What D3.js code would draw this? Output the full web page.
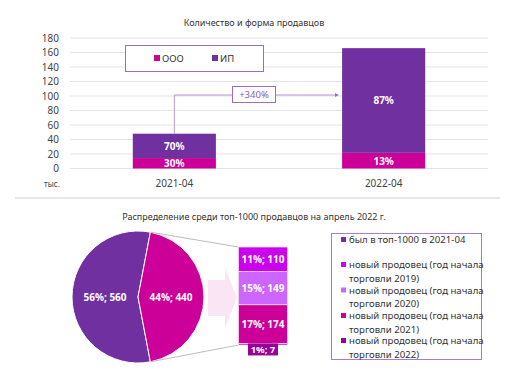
<!DOCTYPE html>
<html>
<head>
<meta charset="utf-8">
<script src="https://cdn.jsdelivr.net/npm/d3@7"></script>
<style>
  body { margin: 0; background: #fff; }
  svg { font-family: "Noto Sans", sans-serif; }
</style>
</head>
<body>
<svg id="chart" width="512" height="378"></svg>
<script>
// data: top chart (thousand sellers)
const periods = ['2021-04', '2022-04'];
const oooValues = [14.4, 21.6];
const ipValues = [33.6, 144.4];
const oooLabels = ['30%', '13%'];
const ipLabels = ['70%', '87%'];
const yTicks = [0, 20, 40, 60, 80, 100, 120, 140, 160, 180];
const growthLabel = '+340%';

// data: top-1000 breakdown
const pieNames = ['был в топ-1000 в 2021-04', 'новый'];
const pieValues = [560, 440];
const pieLabels = ['56%; 560', '44%; 440'];
const newYears = ['2022', '2021', '2020', '2019'];
const newValues = [7, 174, 149, 110];
const newLabels = ['1%; 7', '17%; 174', '15%; 149', '11%; 110'];

const purple = '#7030a0';
const pink = '#cc0099';
const yearColors = { '2019': '#cc00ee', '2020': '#cc66ff', '2021': '#cc0099', '2022': '#990099' };

const svg = d3.select('#chart');

// ---------- top chart ----------
svg.append('text').attr('x', 254).attr('y', 26).attr('text-anchor', 'middle')
  .attr('font-size', 9).attr('fill', '#333').text('Количество и форма продавцов');

const y = d3.scaleLinear().domain([0, 180]).range([168.5, 38]);
const x = d3.scaleBand().domain(periods).range([70, 488]).paddingInner(0.603).paddingOuter(0.3);

svg.append('g').selectAll('line').data(yTicks).join('line')
  .attr('x1', 70).attr('x2', 488)
  .attr('y1', d => y(d)).attr('y2', d => y(d))
  .attr('stroke', '#e3e3e3').attr('stroke-width', 1);

svg.append('g').selectAll('text').data(yTicks).join('text')
  .attr('x', 59).attr('y', d => y(d) + 3.5).attr('text-anchor', 'end')
  .attr('font-size', 10).attr('fill', '#444').text(d => d);

svg.append('text').attr('x', 52).attr('y', 187).attr('text-anchor', 'middle')
  .attr('font-size', 8).attr('fill', '#444').text('тыс.');

svg.append('g').selectAll('text').data(periods).join('text')
  .attr('x', d => x(d) + x.bandwidth() / 2).attr('y', 187).attr('text-anchor', 'middle')
  .attr('font-size', 10).attr('fill', '#444').text(d => d);

// separator line
svg.append('line').attr('x1', 15).attr('x2', 500).attr('y1', 198).attr('y2', 198)
  .attr('stroke', '#e6e6e6').attr('stroke-width', 2);

const bars = svg.append('g');
periods.forEach((p, i) => {
  const bx = x(p), bw = x.bandwidth();
  bars.append('rect').attr('x', bx).attr('width', bw)
    .attr('y', y(oooValues[i])).attr('height', y(0) - y(oooValues[i])).attr('fill', pink);
  bars.append('rect').attr('x', bx).attr('width', bw)
    .attr('y', y(oooValues[i] + ipValues[i])).attr('height', y(oooValues[i]) - y(oooValues[i] + ipValues[i]))
    .attr('fill', purple);
  bars.append('text').attr('x', bx + bw / 2).attr('y', (y(0) + y(oooValues[i])) / 2 + 4)
    .attr('text-anchor', 'middle').attr('font-size', 10).attr('font-weight', 'bold')
    .attr('fill', '#fff').text(oooLabels[i]);
  bars.append('text').attr('x', bx + bw / 2)
    .attr('y', (y(oooValues[i]) + y(oooValues[i] + ipValues[i])) / 2 + 4)
    .attr('text-anchor', 'middle').attr('font-size', 10).attr('font-weight', 'bold')
    .attr('fill', '#fff').text(ipLabels[i]);
});

// legend box
svg.append('rect').attr('x', 125.5).attr('y', 45.5).attr('width', 138).attr('height', 26)
  .attr('fill', '#fff').attr('stroke', '#9a6cc4').attr('stroke-width', 1);
[['ООО', pink, 154], ['ИП', purple, 212]].forEach(([t, c, lx]) => {
  svg.append('rect').attr('x', lx).attr('y', 55).attr('width', 6).attr('height', 6).attr('fill', c);
  svg.append('text').attr('x', lx + 8).attr('y', 61.5).attr('font-size', 9.5).attr('fill', '#333').text(t);
});

// growth arrow
const cx1 = x(periods[0]) + x.bandwidth() / 2;
const top1 = y(oooValues[0] + ipValues[0]);
const arrowY = 95;
const arrowEnd = x(periods[1]) - 4;
svg.append('defs').append('marker').attr('id', 'ah').attr('viewBox', '0 0 6 6')
  .attr('refX', 5).attr('refY', 3).attr('markerWidth', 4).attr('markerHeight', 4).attr('orient', 'auto')
  .append('path').attr('d', 'M0,0L6,3L0,6Z').attr('fill', '#9a6cc4');
svg.append('path').attr('d', `M${cx1},${top1}V${arrowY}H${arrowEnd}`)
  .attr('fill', 'none').attr('stroke', '#b796d6').attr('stroke-width', 1).attr('marker-end', 'url(#ah)');
svg.append('rect').attr('x', 232.5).attr('y', 86.5).attr('width', 43).attr('height', 16)
  .attr('fill', '#fff').attr('stroke', '#9a6cc4');
svg.append('text').attr('x', 254).attr('y', 98).attr('text-anchor', 'middle')
  .attr('font-size', 9.5).attr('fill', '#8a5cb8').text(growthLabel);

// ---------- bottom chart ----------
svg.append('text').attr('x', 254).attr('y', 220).attr('text-anchor', 'middle')
  .attr('font-size', 9).attr('fill', '#333').text('Распределение среди топ-1000 продавцов на апрель 2022 г.');

const pcx = 138, pcy = 297, pr = 66;
const share = pieValues[1] / d3.sum(pieValues);
const pinkStart = Math.PI / 2 - share * Math.PI;
const pinkEnd = Math.PI / 2 + share * Math.PI;
const pie = d3.pie().sort(null).startAngle(pinkEnd).endAngle(pinkEnd + 2 * Math.PI);
const arcs = pie(pieValues);
const arc = d3.arc().innerRadius(0).outerRadius(pr);
const pieG = svg.append('g').attr('transform', `translate(${pcx},${pcy})`);
pieG.selectAll('path').data(arcs).join('path')
  .attr('d', arc).attr('fill', (d, i) => i === 0 ? purple : pink)
  .attr('stroke', '#fff').attr('stroke-width', 1);
const labelArc = d3.arc().innerRadius(pr * 0.5).outerRadius(pr * 0.5);
pieG.selectAll('text').data(arcs).join('text')
  .attr('transform', d => `translate(${labelArc.centroid(d)})`)
  .attr('dy', 4).attr('text-anchor', 'middle').attr('font-size', 10).attr('font-weight', 'bold')
  .attr('fill', '#fff').text((d, i) => pieLabels[i]);

// stacked bar of the pie
const sx = 238.5, sw = 49;
const sy = d3.scaleLinear().domain([0, d3.sum(newValues)]).range([345, 247]);
let acc = 0;
const segs = newValues.map((v, i) => { const s = { v, i, y0: acc, y1: acc + v }; acc += v; return s; });

// connector lines
const pTop = [pcx + pr * Math.sin(pinkStart), pcy - pr * Math.cos(pinkStart)];
const pBot = [pcx + pr * Math.sin(pinkEnd), pcy - pr * Math.cos(pinkEnd)];
svg.append('line').attr('x1', pTop[0]).attr('y1', pTop[1]).attr('x2', sx).attr('y2', sy(acc))
  .attr('stroke', '#aaa').attr('stroke-width', 0.8);
svg.append('line').attr('x1', pBot[0]).attr('y1', pBot[1]).attr('x2', sx).attr('y2', sy(0))
  .attr('stroke', '#aaa').attr('stroke-width', 0.8);

// faint arrow
svg.append('path').attr('d', 'M208,280H225V268L237,298L225,328V316H208Z')
  .attr('fill', '#f3c6e6').attr('opacity', 0.45);

svg.append('g').selectAll('rect').data(segs).join('rect')
  .attr('x', sx).attr('width', sw)
  .attr('y', d => sy(d.y1)).attr('height', d => sy(d.y0) - sy(d.y1))
  .attr('fill', d => yearColors[newYears[d.i]])
  .attr('stroke', '#f2d6f2').attr('stroke-width', 0.8);

svg.append('g').selectAll('text').data(segs.filter(d => d.v > 20)).join('text')
  .attr('x', sx + sw / 2).attr('y', d => (sy(d.y0) + sy(d.y1)) / 2 + 4)
  .attr('text-anchor', 'middle').attr('font-size', 10).attr('font-weight', 'bold')
  .attr('fill', '#fff').text(d => newLabels[d.i]);

// small label for the tiny segment
const tiny = segs.filter(d => d.v <= 20)[0];
svg.append('rect').attr('x', 248).attr('y', sy(tiny.y1)).attr('width', 30).attr('height', 12)
  .attr('fill', yearColors[newYears[tiny.i]]);
svg.append('text').attr('x', 263).attr('y', sy(tiny.y1) + 9.5).attr('text-anchor', 'middle')
  .attr('font-size', 9.5).attr('font-weight', 'bold').attr('fill', '#fff').text(newLabels[tiny.i]);

// right legend
svg.append('rect').attr('x', 331.5).attr('y', 233.5).attr('width', 150).attr('height', 126)
  .attr('fill', '#fff').attr('stroke', '#a67cd0').attr('stroke-width', 1);
const legendItems = [
  { c: purple, lines: ['был в топ-1000 в 2021-04'], y: 243 },
  { c: yearColors['2019'], lines: ['новый продовец (год начала', 'торговли 2019)'], y: 268 },
  { c: yearColors['2020'], lines: ['новый продовец (год начала', 'торговли 2020)'], y: 293.5 },
  { c: yearColors['2021'], lines: ['новый продовец (год начала', 'торговли 2021)'], y: 319 },
  { c: yearColors['2022'], lines: ['новый продовец (год начала', 'торговли 2022)'], y: 344 }
];
legendItems.forEach(it => {
  svg.append('rect').attr('x', 341).attr('y', it.y - 6).attr('width', 5).attr('height', 5).attr('fill', it.c);
  it.lines.forEach((l, j) => {
    svg.append('text').attr('x', 349).attr('y', it.y + j * 13.5).attr('font-size', 9.6)
      .attr('fill', '#333').text(l);
  });
});
</script>
</body>
</html>
